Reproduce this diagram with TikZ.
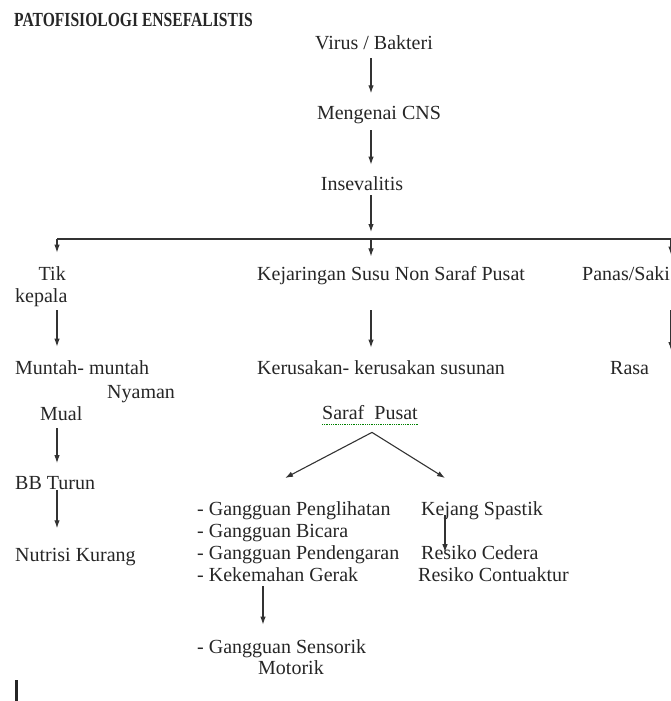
\documentclass[tikz,border=0pt]{standalone}
\usepackage{fontspec}
\setmainfont{Liberation Serif}
\usetikzlibrary{arrows.meta, calc}

\begin{document}
\begin{tikzpicture}[x=1pt, y=-1pt,
    tekst/.style={inner sep=0pt, anchor=base west, font=\fontsize{20}{22}\selectfont, text=black!85},
    panah/.style={-{Latex[length=8pt, width=5.5pt]}, line width=1.1pt, black!80},
  ]
    \useasboundingbox (0,0) rectangle (671,701);
    \clip (0,0) rectangle (671,701);

    % Title
    \node[tekst, font=\fontsize{20}{22}\selectfont\bfseries] (judul) at (14,27) {\scalebox{0.78}[1]{PATOFISIOLOGI ENSEFALISTIS}};

    % Main trunk
    \node[tekst, anchor=base] (virus) at (374,49) {Virus / Bakteri};
    \node[tekst, anchor=base] (cns) at (379,119) {Mengenai CNS};
    \node[tekst, anchor=base] (ins) at (362,190) {Insevalitis};

    \coordinate (trunk) at (371,0);
    \coordinate (lcol) at (57,0);
    \coordinate (rcol) at (671,0);
    \coordinate (gcol) at (263,0);
    \coordinate (kcol) at (445,0);
    \coordinate (busL) at (57,239);
    \coordinate (busR) at (671,239);

    \draw[panah, shorten <=8.7pt, shorten >=12.3pt] (virus.south -| trunk) -- (cns.north -| trunk);
    \draw[panah, shorten <=6.6pt, shorten >=11.3pt] (cns.south -| trunk) -- (ins.north -| trunk);
    \draw[panah, shorten <=4.8pt, shorten >=7pt] (ins.south -| trunk) -- (busL -| trunk);

    % Branch bar
    \draw[line width=1.4pt, black!80] (busL) -- (busR);

    % Left branch
    \node[tekst, anchor=base east] (tik) at (66,280) {Tik};
    \node[tekst] (kepala) at (15,302) {kepala};
    \node[tekst] (muntah) at (15,374) {Muntah- muntah};
    \node[tekst] (nyaman) at (107,398) {Nyaman};
    \node[tekst] (mual) at (40,420) {Mual};
    \node[tekst] (bb) at (15,489) {BB Turun};
    \node[tekst] (nutrisi) at (15,561) {Nutrisi Kurang};

    \draw[panah, shorten >=13.3pt] (busL) -- (tik.north -| lcol);
    \draw[panah, shorten <=3.6pt, shorten >=13.3pt] (kepala.south -| lcol) -- (muntah.north -| lcol);
    \draw[panah, shorten <=8pt, shorten >=12.6pt] (mual.south -| lcol) -- (bb.north -| lcol);
    \draw[panah, shorten <=1pt, shorten >=19.3pt] (bb.south -| lcol) -- (nutrisi.north -| lcol);

    % Middle branch
    \node[tekst] (jaringan) at (257,280) {Kejaringan Susu Non Saraf Pusat};
    \node[tekst] (rusak) at (257,374) {Kerusakan- kerusakan susunan};
    \node[tekst] (saraf) at (322,419) {Saraf\ \ Pusat};
    \draw[green!50!black, densely dotted, line width=0.8pt] ($(saraf.base west)+(0,5)$) -- ($(saraf.base east)+(0,5)$);

    \draw[panah, shorten >=9.3pt] (busL -| trunk) -- (jaringan.north -| trunk);
    \draw[panah, shorten <=25.6pt, shorten >=12.3pt] (jaringan.south -| trunk) -- (rusak.north -| trunk);

    \node[tekst] (g1) at (197,515) {- Gangguan Penglihatan};
    \node[tekst] (g2) at (197,537) {- Gangguan Bicara};
    \node[tekst] (g3) at (197,559) {- Gangguan Pendengaran};
    \node[tekst] (g4) at (197,581) {- Kekemahan Gerak};
    \node[tekst] (sensorik) at (197,653) {- Gangguan Sensorik};
    \node[tekst] (motorik) at (258,674) {Motorik};

    \node[tekst] (kejang) at (421,515) {Kejang Spastik};
    \node[tekst] (cedera) at (421,559) {Resiko Cedera};
    \node[tekst] (kontraktur) at (418,581) {Resiko Contuaktur};

    \draw[panah] ($(saraf.south)+(2,13)$) -- ($(g1.base west)+(88,-37)$);
    \draw[panah] ($(saraf.south)+(2,13)$) -- ($(kejang.base west)+(24,-37)$);
    \draw[panah, shorten <=4.6pt, shorten >=14.3pt] (g4.south -| gcol) -- (sensorik.north -| gcol);
    \draw[panah, shorten >=4.5pt] (kejang.base -| kcol) -- (cedera.mid -| kcol);

    % Right branch (at the edge)
    \node[tekst] (panas) at (582,280) {Panas/Saki};
    \node[tekst] (rasa) at (610,374) {Rasa};
    \draw[panah, shorten >=11.3pt] (busR) -- (panas.north -| rcol);
    \draw[panah, shorten <=29.7pt, shorten >=10.6pt] (panas.south -| rcol) -- (rasa.north -| rcol);

    % Cursor mark
    \draw[line width=3pt, black!85] (16,680) -- (16,701);
\end{tikzpicture}
\end{document}
